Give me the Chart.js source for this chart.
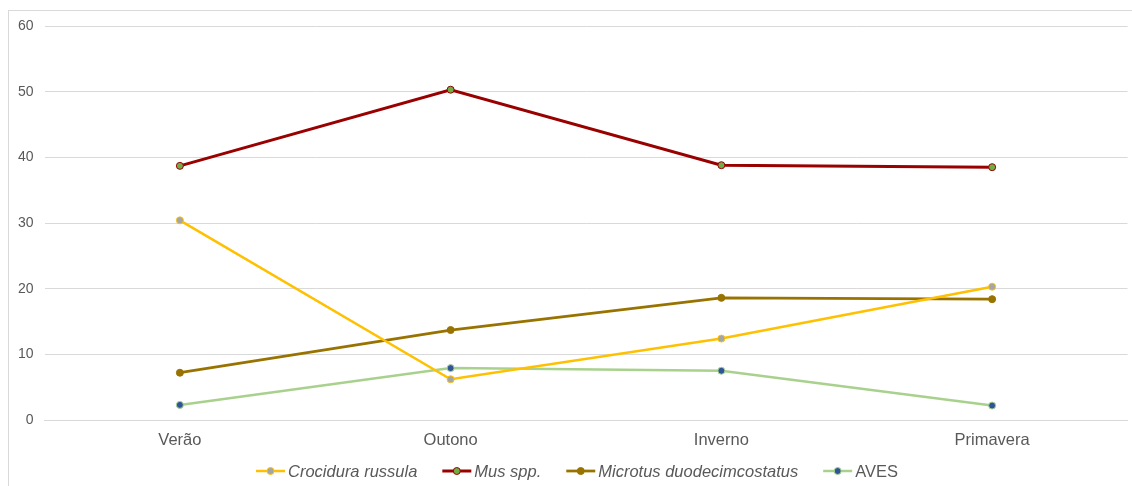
<!DOCTYPE html>
<html>
<head>
<meta charset="utf-8">
<script src="https://cdn.jsdelivr.net/npm/chart.js@4.4.1/dist/chart.umd.min.js"></script>
<style>
  html, body { margin: 0; padding: 0; background: #fff; }
  #wrap { width: 1132px; height: 486px; position: relative; }
</style>
</head>
<body>
<div id="wrap"><canvas id="c" width="1132" height="486"></canvas></div>
<script>
// Seasons along the x axis
const seasons = ['Verão', 'Outono', 'Inverno', 'Primavera'];

// Percentage values per prey group
const crocidura = [30.4, 6.2, 12.4, 20.3];
const mus = [38.7, 50.3, 38.8, 38.5];
const microtus = [7.2, 13.7, 18.6, 18.4];
const aves = [2.3, 7.9, 7.5, 2.2];

// Y axis ticks
const yTicks = [0, 10, 20, 30, 40, 50, 60];

const FONT = '"Liberation Sans", Arial, sans-serif';
const TEXT = '#595959';

function series(label, data, line, fill, border, italic, width) {
  return {
    label, data,
    borderColor: line,
    borderWidth: width,
    pointBackgroundColor: fill,
    pointBorderColor: border,
    pointBorderWidth: 1,
    pointRadius: 3.5,
    pointHoverRadius: 3.5,
    tension: 0,
    italic
  };
}

const datasets = [
  series('Crocidura russula', crocidura, '#FFC000', '#A5A5A5', '#FFC000', true, 2.5),
  series('Mus spp.', mus, '#990000', '#70AD47', '#990000', true, 3),
  series('Microtus duodecimcostatus', microtus, '#997300', '#997300', '#997300', true, 2.75),
  series('AVES', aves, '#A9D18E', '#2F5597', '#A9D18E', false, 2.5)
];

// Legend drawn underneath the plot: line swatch with a marker, then the name
const bottomLegend = {
  id: 'bottomLegend',
  afterDraw(chart) {
    const ctx = chart.ctx;
    const size = 16.5;
    const swatch = 29, gapText = 3, gapItem = 25;
    const items = chart.data.datasets.map(ds => {
      ctx.font = (ds.italic ? 'italic ' : '') + size + 'px ' + FONT;
      return { ds, w: swatch + gapText + ctx.measureText(ds.label).width };
    });
    const total = items.reduce((s, it) => s + it.w, 0) + gapItem * (items.length - 1);
    let x = 577 - total / 2;
    const y = 471;
    ctx.save();
    items.forEach(({ ds, w }) => {
      ctx.strokeStyle = ds.borderColor;
      ctx.lineWidth = ds.borderWidth;
      ctx.beginPath();
      ctx.moveTo(x, y);
      ctx.lineTo(x + swatch, y);
      ctx.stroke();
      ctx.beginPath();
      ctx.arc(x + swatch / 2, y, 3.5, 0, Math.PI * 2);
      ctx.fillStyle = ds.pointBackgroundColor;
      ctx.fill();
      ctx.lineWidth = 1;
      ctx.strokeStyle = ds.pointBorderColor;
      ctx.stroke();
      ctx.font = (ds.italic ? 'italic ' : '') + size + 'px ' + FONT;
      ctx.fillStyle = TEXT;
      ctx.textBaseline = 'middle';
      ctx.textAlign = 'left';
      ctx.fillText(ds.label, x + swatch + gapText, y + 1);
      x += w + gapItem;
    });
    // chart frame
    ctx.strokeStyle = '#D9D9D9';
    ctx.lineWidth = 1;
    ctx.strokeRect(8.5, 10.5, 1140, 490);
    ctx.restore();
  }
};

new Chart(document.getElementById('c'), {
  type: 'line',
  data: { labels: seasons, datasets },
  options: {
    responsive: false,
    animation: false,
    layout: { padding: { top: 26, right: 3.5, left: 0, bottom: 0 } },
    plugins: { legend: { display: false }, tooltip: { enabled: false } },
    scales: {
      x: {
        offset: true,
        grid: { display: false, drawTicks: false },
        border: { display: true, color: '#D9D9D9', width: 1 },
        ticks: { color: TEXT, font: { family: FONT, size: 16.5 }, padding: 11 },
        afterFit(s) { s.height = 66; }
      },
      y: {
        min: 0, max: 60,
        afterBuildTicks(s) { s.ticks = yTicks.map(v => ({ value: v })); },
        grid: { color: '#D9D9D9', drawTicks: false },
        border: { display: false },
        ticks: { color: TEXT, font: { family: FONT, size: 14 }, padding: 11 },
        afterFit(s) { s.width = 44.5; }
      }
    }
  },
  plugins: [bottomLegend]
});
</script>
</body>
</html>
